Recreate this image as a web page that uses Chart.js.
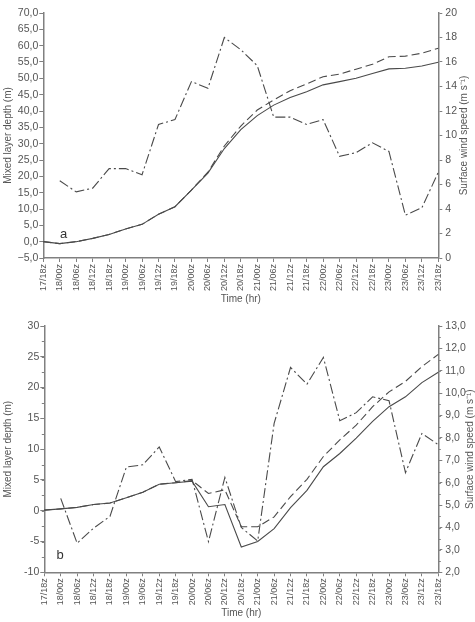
<!DOCTYPE html>
<html>
<head>
<meta charset="utf-8">
<script src="https://cdn.jsdelivr.net/npm/chart.js@4.4.0/dist/chart.umd.min.js"></script>
<style>
  html, body { margin: 0; padding: 0; background: #fff; }
  #wrap { position: relative; width: 475px; height: 622px; }
  canvas { position: absolute; left: 0; }
  #cA { top: 0; }
  #cB { top: 311px; }
</style>
</head>
<body>
<div id="wrap">
  <canvas id="cA" width="475" height="311"></canvas>
  <canvas id="cB" width="475" height="311"></canvas>
</div>
<script>
const times = ['17/18z', '18/00z', '18/06z', '18/12z', '18/18z', '19/00z', '19/06z', '19/12z',
  '19/18z', '20/00z', '20/06z', '20/12z', '20/18z', '21/00z', '21/06z', '21/12z', '21/18z',
  '22/00z', '22/06z', '22/12z', '22/18z', '23/00z', '23/06z', '23/12z', '23/18z'];

// panel a
const mldA1 = [0.0, -0.6, 0.0, 1.0, 2.2, 3.9, 5.3, 8.4, 10.7, 15.8, 21.0, 28.5, 34.3, 38.6,
  41.8, 44.1, 45.9, 48.0, 49.0, 50.0, 51.5, 52.9, 53.1, 53.8, 54.9];
const mldA2 = [0.0, -0.6, 0.0, 1.0, 2.2, 3.9, 5.3, 8.4, 10.7, 15.8, 21.3, 29.3, 35.4, 40.3,
  43.4, 46.2, 48.3, 50.5, 51.3, 52.8, 54.3, 56.6, 56.8, 57.7, 59.2];
const windA = [null, 6.3, 5.4, 5.7, 7.3, 7.3, 6.8, 10.9, 11.3, 14.4, 13.85, 18.0, 17.0, 15.7,
  11.5, 11.5, 10.9, 11.3, 8.3, 8.6, 9.4, 8.7, 3.5, 4.1, 7.0];

// panel b
const mldB1 = [0.1, 0.3, 0.55, 1.0, 1.25, 2.1, 3.0, 4.3, 4.55, 4.8, 0.65, 1.0, -5.9, -5.0,
  -2.9, 0.5, 3.3, 7.15, 9.3, 11.8, 14.5, 16.9, 18.5, 20.8, 22.5];
const mldB2 = [0.1, 0.3, 0.55, 1.0, 1.25, 2.1, 3.0, 4.3, 4.55, 4.9, 2.8, 3.4, -2.6, -2.6,
  -1.0, 2.3, 5.1, 8.8, 11.5, 13.9, 16.9, 19.3, 21.0, 23.4, 25.4];
const windB = [null, 5.3, 3.3, 3.97, 4.5, 6.7, 6.8, 7.6, 6.05, 6.15, 3.37, 6.24, 4.0, 3.4,
  8.65, 11.15, 10.4, 11.6, 8.77, 9.13, 9.84, 9.66, 6.45, 8.2, 7.7];

const FONT = '"Liberation Sans", Arial, sans-serif';
const TEXT = '#555';
const AXIS = '#808080';
const LINE = '#4a4a4a';

const comma1 = (v) => (v < 0 ? '\u2212' : '') + Math.abs(v).toFixed(1).replace('.', ',');

// minor ticks, panel letter and right-hand title (rotated bottom to top)
const extras = {
  id: 'extras',
  afterDraw(chart, args, opts) {
    const ctx = chart.ctx;
    const area = chart.chartArea;
    ctx.save();
    ctx.strokeStyle = AXIS;
    ctx.lineWidth = 1;
    (opts.minor || []).forEach((m) => {
      const s = chart.scales[m.axis];
      const x0 = m.axis === 'y' ? area.left : area.right;
      const dir = m.axis === 'y' ? -1 : 1;
      for (let v = s.min; v <= s.max + 1e-9; v += m.step) {
        const y = Math.round(s.getPixelForValue(v)) + 0.5;
        ctx.beginPath();
        ctx.moveTo(x0, y);
        ctx.lineTo(x0 + dir * 2.5, y);
        ctx.stroke();
      }
    });
    ctx.fillStyle = '#333';
    ctx.font = '13px ' + FONT;
    ctx.textAlign = 'center';
    ctx.textBaseline = 'middle';
    ctx.fillText(opts.letter, opts.letterX, opts.letterY);
    ctx.fillStyle = TEXT;
    ctx.font = '10px ' + FONT;
    ctx.translate(opts.titleX, (area.top + area.bottom) / 2);
    ctx.rotate(-Math.PI / 2);
    ctx.fillText('Surface wind speed (m s\u207B\u00B9)', 0, 0);
    ctx.restore();
  }
};

function series(label, data, axis, dash) {
  return {
    label: label,
    data: data,
    yAxisID: axis,
    borderColor: LINE,
    borderWidth: 1.1,
    borderDash: dash,
    pointRadius: 0,
    fill: false,
    tension: 0,
    spanGaps: false
  };
}

function makeChart(id, cfg) {
  return new Chart(document.getElementById(id), {
    type: 'line',
    data: {
      labels: times,
      datasets: [
        series('Mixed layer depth, run 1', cfg.mld1, 'y', []),
        series('Mixed layer depth, run 2', cfg.mld2, 'y', [8, 4]),
        series('Surface wind speed', cfg.wind, 'y1', [10, 3, 2, 3])
      ]
    },
    options: {
      responsive: false,
      animation: false,
      layout: { padding: { top: cfg.top, left: 0, right: 0, bottom: 0 } },
      plugins: {
        legend: { display: false },
        tooltip: { enabled: false },
        extras: cfg.extras
      },
      scales: {
        x: {
          type: 'category',
          offset: false,
          afterFit: (s) => { s.height = cfg.xh; },
          border: { display: true, color: AXIS, width: 1.5 },
          grid: { drawOnChartArea: false, drawTicks: true, tickLength: 4, color: AXIS },
          ticks: {
            autoSkip: false, minRotation: 90, maxRotation: 90, padding: 2,
            color: TEXT, font: { family: FONT, size: 9 }
          },
          title: {
            display: true, text: 'Time (hr)', color: TEXT,
            font: { family: FONT, size: 10 }, padding: { top: 0, bottom: cfg.xtitlePad }
          }
        },
        y: {
          position: 'left',
          min: cfg.yMin, max: cfg.yMax,
          afterFit: (s) => { s.width = cfg.left; },
          border: { display: true, color: AXIS, width: 1.5 },
          grid: { drawOnChartArea: false, drawTicks: true, tickLength: 4, color: AXIS },
          ticks: {
            stepSize: cfg.yStep, padding: 1, color: TEXT,
            font: { family: FONT, size: 10.5 },
            callback: cfg.yFmt
          },
          title: {
            display: true, text: 'Mixed layer depth (m)', color: TEXT,
            font: { family: FONT, size: 10 }, padding: { top: 2, bottom: 0 }
          }
        },
        y1: {
          position: 'right',
          min: cfg.wMin, max: cfg.wMax,
          afterFit: (s) => { s.width = cfg.right; },
          border: { display: true, color: AXIS, width: 1.5 },
          grid: { drawOnChartArea: false, drawTicks: true, tickLength: 4, color: AXIS },
          ticks: {
            stepSize: cfg.wStep, padding: 3, color: TEXT,
            font: { family: FONT, size: 10.5 },
            callback: cfg.wFmt
          }
        }
      }
    },
    plugins: [extras]
  });
}

makeChart('cA', {
  mld1: mldA1, mld2: mldA2, wind: windA,
  top: 13, xh: 53, xtitlePad: 6, left: 43.3, right: 36.7,
  yMin: -5, yMax: 70, yStep: 5, yFmt: (v) => comma1(v),
  wMin: 0, wMax: 20, wStep: 2, wFmt: (v) => String(v),
  extras: { minor: [], letter: 'a', letterX: 63.5, letterY: 234, titleX: 464.5 }
});

makeChart('cB', {
  mld1: mldB1, mld2: mldB2, wind: windB,
  top: 15, xh: 49.7, xtitlePad: 3, left: 44.3, right: 36.7,
  yMin: -10, yMax: 30, yStep: 5, yFmt: (v) => String(v),
  wMin: 2, wMax: 13, wStep: 1, wFmt: (v) => v.toFixed(1).replace('.', ','),
  extras: {
    minor: [{ axis: 'y', step: 2.5 }, { axis: 'y1', step: 0.5 }],
    letter: 'b', letterX: 60, letterY: 244, titleX: 470.5
  }
});
</script>
</body>
</html>
